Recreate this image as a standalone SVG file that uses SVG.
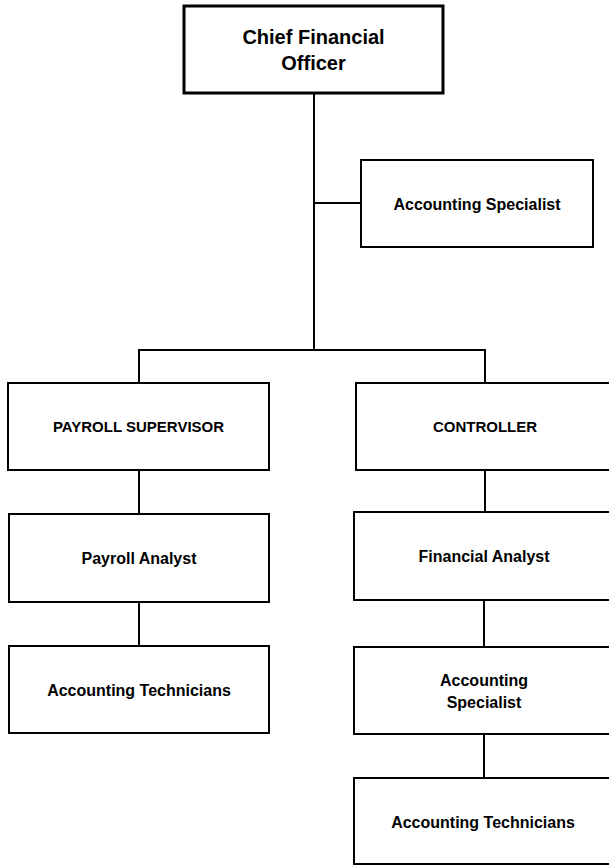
<svg xmlns="http://www.w3.org/2000/svg" width="609" height="865" viewBox="0 0 609 865">
<style>
.box{fill:#fff;stroke:#000;stroke-width:2}
.top{fill:#fff;stroke:#000;stroke-width:3}
.lbl{font-family:"Liberation Sans",Arial,sans-serif;font-weight:bold;font-size:16px;fill:#000;text-anchor:middle}
.big{font-size:20px}
.caps{font-size:15px}
.conn{stroke:#000;stroke-width:2;fill:none}
</style>
<rect width="609" height="865" fill="#fff"/>
<g id="connectors">
<line class="conn" x1="314" y1="93" x2="314" y2="351"/>
<line class="conn" x1="314" y1="203" x2="361" y2="203"/>
<polyline class="conn" points="139,383 139,350 485,350 485,383"/>
<line class="conn" x1="139" y1="470" x2="139" y2="514"/>
<line class="conn" x1="139" y1="602" x2="139" y2="646"/>
<line class="conn" x1="485" y1="470" x2="485" y2="512"/>
<line class="conn" x1="484" y1="600" x2="484" y2="647"/>
<line class="conn" x1="484" y1="734" x2="484" y2="778"/>
</g>
<g id="cfo">
<rect class="top" x="184" y="6" width="259" height="87"/>
<text class="lbl big" x="313.5" y="44">Chief Financial</text>
<text class="lbl big" x="313.5" y="70">Officer</text>
</g>
<g id="accounting-specialist-top">
<rect class="box" x="361" y="160" width="232" height="87"/>
<text class="lbl" x="477" y="209.5">Accounting Specialist</text>
</g>
<g id="payroll-supervisor">
<rect class="box" x="8" y="383" width="261" height="87"/>
<text class="lbl caps" x="138.5" y="432">PAYROLL SUPERVISOR</text>
</g>
<g id="controller">
<rect class="box" x="356" y="383" width="262" height="87"/>
<text class="lbl caps" x="485" y="432">CONTROLLER</text>
</g>
<g id="payroll-analyst">
<rect class="box" x="9" y="514" width="260" height="88"/>
<text class="lbl" x="139" y="563.5">Payroll Analyst</text>
</g>
<g id="financial-analyst">
<rect class="box" x="354" y="512" width="264" height="88"/>
<text class="lbl" x="484" y="562">Financial Analyst</text>
</g>
<g id="accounting-technicians-left">
<rect class="box" x="9" y="646" width="260" height="87"/>
<text class="lbl" x="139" y="695.5">Accounting Technicians</text>
</g>
<g id="accounting-specialist-right">
<rect class="box" x="354" y="647" width="264" height="87"/>
<text class="lbl" x="484" y="685.5">Accounting</text>
<text class="lbl" x="484" y="707.5">Specialist</text>
</g>
<g id="accounting-technicians-right">
<rect class="box" x="354" y="778" width="264" height="86"/>
<text class="lbl" x="483" y="827.5">Accounting Technicians</text>
</g>
</svg>
